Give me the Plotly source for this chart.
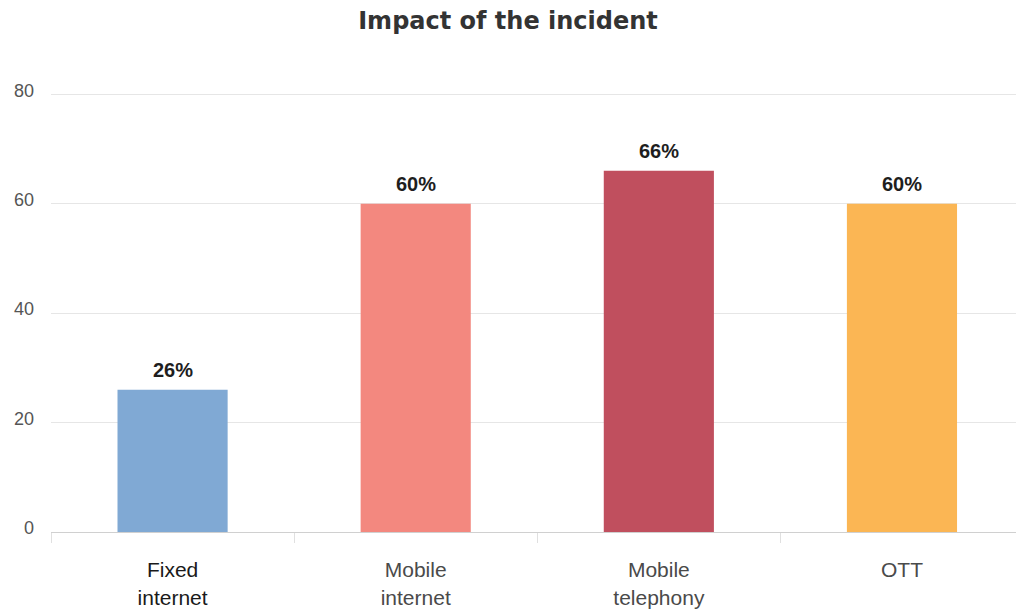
import plotly.graph_objects as go

# Data
categories = ["Fixed internet", "Mobile internet", "Mobile telephony", "OTT"]
tick_labels = [
    "<span style='color:#1a1a1a'>Fixed<br>internet</span>",
    "Mobile<br>internet",
    "Mobile<br>telephony",
    "OTT",
]
impact_pct = [26, 60, 66, 60]
bar_colors = ["#80A9D4", "#F3887F", "#C04F5E", "#FBB654"]
y_ticks = [0, 20, 40, 60, 80]

fig = go.Figure(
    go.Bar(
        x=categories,
        y=impact_pct,
        marker=dict(color=bar_colors, line=dict(width=0)),
        width=0.453,
        hoverinfo="skip",
    )
)

# Value labels above each bar
for cat, val in zip(categories, impact_pct):
    fig.add_annotation(
        x=cat,
        y=val,
        text=f"<b>{val}%</b>",
        showarrow=False,
        yanchor="bottom",
        yshift=7,
        font=dict(family="Liberation Sans", size=20, color="#1e1e1e"),
    )

fig.update_layout(
    width=1016,
    height=609,
    margin=dict(l=51, r=0, t=92, b=77),
    paper_bgcolor="white",
    plot_bgcolor="white",
    showlegend=False,
    title=dict(
        text="<b>Impact of the incident</b>",
        x=0.5,
        xanchor="center",
        y=1 - 21 / 609,
        yanchor="middle",
        font=dict(family="DejaVu Sans", size=24, color="#333333"),
    ),
)

fig.update_xaxes(
    range=[-0.5, 3.469],
    tickvals=categories,
    ticktext=tick_labels,
    showline=True,
    linecolor="#d0d0d0",
    linewidth=1,
    ticks="outside",
    tickson="boundaries",
    ticklen=10,
    tickcolor="#e0e0e0",
    showgrid=False,
    ticklabelstandoff=19,
    tickfont=dict(family="Liberation Sans", size=21, color="#4a4a4a"),
)

fig.update_yaxes(
    range=[0, 80.4],
    tickvals=y_ticks,
    showgrid=True,
    gridcolor="#e6e6e6",
    gridwidth=1,
    zeroline=False,
    showline=False,
    ticks="",
    ticklabelstandoff=16,
    ticklabelshift=-4,
    tickfont=dict(family="Liberation Sans", size=18, color="#555555"),
)

fig.write_html("out.html")
